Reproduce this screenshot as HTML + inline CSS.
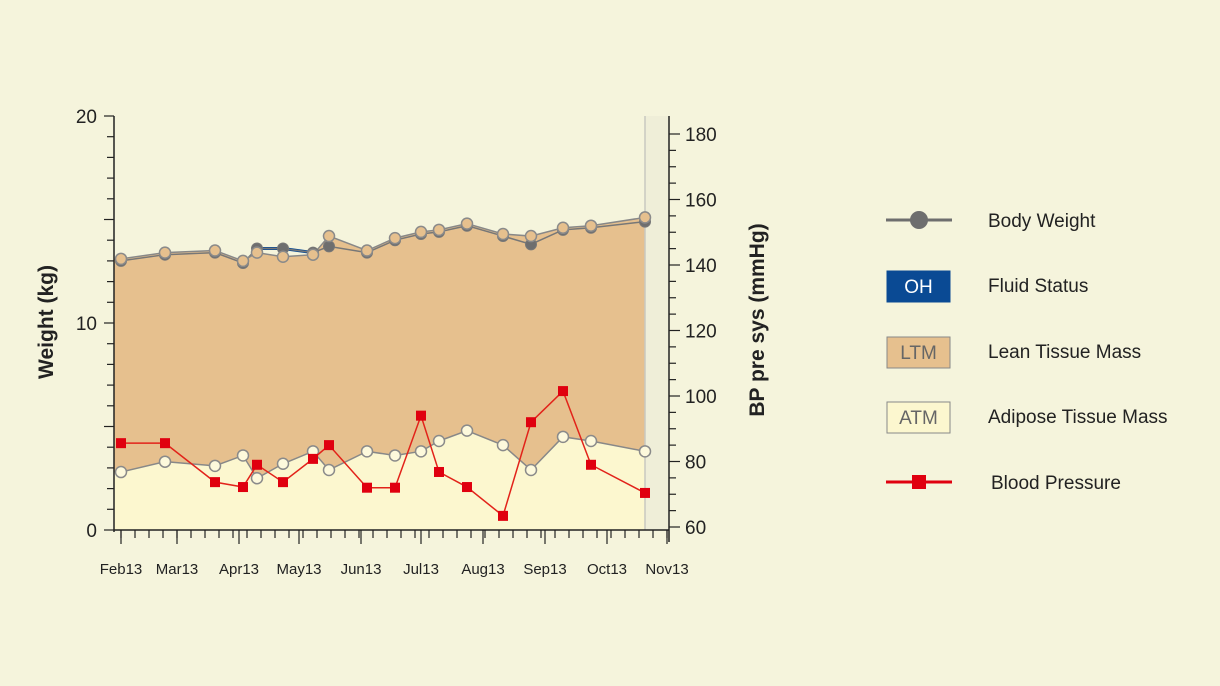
<!DOCTYPE html>
<html><head><meta charset="utf-8"><style>
body{margin:0;background:#f5f4dc;}
svg{display:block;font-family:"Liberation Sans",sans-serif;}
</style></head><body>
<svg width="1220" height="686" id="c">
<rect width="1220" height="686" fill="#f5f4dc"/>
</svg>
<script>
const days=[0,22,47,61,68,81,96,104,123,137,150,159,173,191,205,221,235,262];
const totalMass=[13.1,13.4,13.5,13.0,13.4,13.2,13.3,14.2,13.5,14.1,14.4,14.5,14.8,14.3,14.2,14.6,14.7,15.1];
const bodyWeight=[13.0,13.3,13.4,12.9,13.6,13.6,13.4,13.7,13.4,14.0,14.3,14.4,14.7,14.2,13.8,14.5,14.6,14.9];
const atm=[2.8,3.3,3.1,3.6,2.5,3.2,3.8,2.9,3.8,3.6,3.8,4.3,4.8,4.1,2.9,4.5,4.3,3.8];
const bp=[85.6,85.6,73.7,72.2,79,73.7,80.8,85,72,72,94,76.8,72.2,63.4,92,101.5,79,70.4];
const monthDays=[0,28,59,89,120,150,181,212,243,273];
const monthLabels=["Feb13","Mar13","Apr13","May13","Jun13","Jul13","Aug13","Sep13","Oct13","Nov13"];
const wTicks=[0,10,20];
const bpTicks=[60,80,100,120,140,160,180];

const svg=document.getElementById('c');const NS='http://www.w3.org/2000/svg';
function el(t,a,name,p){const e=document.createElementNS(NS,t);for(const k in a)e.setAttribute(k,a[k]);


(p||svg).appendChild(e);return e;}
const X=d=>121+2*d;
const Y=v=>530-20.7*v;
const YB=v=>527-3.275*(v-60);
const x0=114,x1=669,yb=530,yt=116;
const endX=X(days[days.length-1]);
const topPts=days.map((d,i)=>X(d)+','+Y(totalMass[i])).join(' ');
el('polygon',{points:x0+','+yb+' '+x0+','+Y(totalMass[0])+' '+topPts+' '+endX+','+yb,fill:'#e6c08e'},'ltm-area');
const atmPts=days.map((d,i)=>X(d)+','+Y(atm[i])).join(' ');
el('polygon',{points:x0+','+yb+' '+x0+','+Y(atm[0])+' '+atmPts+' '+endX+','+yb,fill:'#fcf7cf'},'atm-area');
el('rect',{x:endX,y:yt,width:x1-endX,height:yb-yt,fill:'#efeed8'},'future-region');
el('line',{x1:endX,y1:yt,x2:endX,y2:yb,stroke:'#c8c8c0','stroke-width':1.5},'today-line');
el('polyline',{points:days.slice(4,7).map((d,i)=>X(d)+','+Y(bodyWeight[i+4])).join(' '),fill:'none',stroke:'#0a4a94','stroke-width':3},'fluid-status-line');
el('polyline',{points:days.map((d,i)=>X(d)+','+Y(bodyWeight[i])).join(' '),fill:'none',stroke:'#777','stroke-width':1.5},'body-weight-line');
el('polyline',{points:topPts,fill:'none',stroke:'#888','stroke-width':1.5},'ltm-line');
el('polyline',{points:atmPts,fill:'none',stroke:'#888','stroke-width':1.5},'atm-line');
days.forEach((d,i)=>{el('circle',{cx:X(d),cy:Y(bodyWeight[i]),r:5.5,fill:'#6e6e6e',stroke:'#777'},'body-weight-point');});
days.forEach((d,i)=>{el('circle',{cx:X(d),cy:Y(totalMass[i]),r:5.5,fill:'#e6c08e',stroke:'#8a8a8a','stroke-width':1.5},'ltm-point');});
days.forEach((d,i)=>{el('circle',{cx:X(d),cy:Y(atm[i]),r:5.5,fill:'#fdf9dc',stroke:'#8a8a8a','stroke-width':1.5},'atm-point');});
el('polyline',{points:days.map((d,i)=>X(d)+','+YB(bp[i])).join(' '),fill:'none',stroke:'#e2231a','stroke-width':1.5},'bp-line');
days.forEach((d,i)=>{el('rect',{x:X(d)-5,y:YB(bp[i])-5,width:10,height:10,fill:'#e0000f'},'bp-point');});
el('line',{x1:x0,y1:yt,x2:x0,y2:yb+2,stroke:'#222','stroke-width':1.5},'left-axis');
el('line',{x1:x1,y1:yt,x2:x1,y2:yb+12,stroke:'#222','stroke-width':1.5},'right-axis');
el('line',{x1:x0,y1:yb,x2:x1,y2:yb,stroke:'#222','stroke-width':1.5},'x-axis');
for(let v=0;v<=20;v++){el('line',{x1:x0-(v%5==0?10:7),y1:Y(v),x2:x0,y2:Y(v),stroke:'#222','stroke-width':1.2},'left-tick');}
wTicks.forEach(v=>{const tx=el('text',{x:x0-17,y:Y(v)+7,'text-anchor':'end','font-size':19,fill:'#222'},'left-tick-label');tx.textContent=v;});
for(let v=60;v<=180;v+=5){el('line',{x1:x1,y1:YB(v),x2:x1+(v%20==0?11:7),y2:YB(v),stroke:'#222','stroke-width':1.2},'right-tick');}
bpTicks.forEach(v=>{const tx=el('text',{x:x1+16,y:YB(v)+7,'font-size':19,fill:'#222'},'right-tick-label');tx.textContent=v;});
for(let d=0;d<=276;d+=7){el('line',{x1:X(d),y1:yb,x2:X(d),y2:yb+8,stroke:'#222','stroke-width':1.2},'x-minor-tick');}
monthDays.forEach((d,i)=>{el('line',{x1:X(d),y1:yb,x2:X(d),y2:yb+14,stroke:'#222','stroke-width':1.2},'x-tick');
const tx=el('text',{x:X(d),y:yb+44,'text-anchor':'middle','font-size':15,fill:'#222'},'x-tick-label');tx.textContent=monthLabels[i];});
let tt=el('text',{transform:'translate(53,322) rotate(-90)','text-anchor':'middle','font-size':21,'font-weight':'bold',fill:'#222'},'y-axis-title');tt.textContent='Weight (kg)';
tt=el('text',{transform:'translate(764,320) rotate(-90)','text-anchor':'middle','font-size':21,'font-weight':'bold',fill:'#222'},'y2-axis-title');tt.textContent='BP pre sys (mmHg)';
const L=el('g',{},'legend');
el('line',{x1:886,y1:220,x2:952,y2:220,stroke:'#6e6e6e','stroke-width':3},'legend-body-weight-line',L);
el('circle',{cx:919,cy:220,r:9,fill:'#6e6e6e'},'legend-body-weight-marker',L);
const boxes=[[286,'#0a4a94','#0a4a94','OH','#fff'],[352,'#e6c08e','#888','LTM','#666'],[417,'#fcf7cf','#888','ATM','#666']];
boxes.forEach(b=>{el('rect',{x:887,y:b[0]-15,width:63,height:31,fill:b[1],stroke:b[2],'stroke-width':1},'legend-'+b[3].toLowerCase()+'-box',L);
const tx=el('text',{x:918.5,y:b[0]+7,'text-anchor':'middle','font-size':19,fill:b[4]},'legend-'+b[3].toLowerCase()+'-label',L);tx.textContent=b[3];});
el('line',{x1:886,y1:482,x2:952,y2:482,stroke:'#e0000f','stroke-width':3},'legend-bp-line',L);
el('rect',{x:912,y:475,width:14,height:14,fill:'#e0000f'},'legend-bp-marker',L);
[[988,227,'Body Weight'],[988,292,'Fluid Status'],[988,358,'Lean Tissue Mass'],[988,423,'Adipose Tissue Mass'],[991,489,'Blood Pressure']].forEach(a=>{
const tx=el('text',{x:a[0],y:a[1],'font-size':19,fill:'#222'},'legend-entry',L);tx.textContent=a[2];});
</script>
</body></html>
